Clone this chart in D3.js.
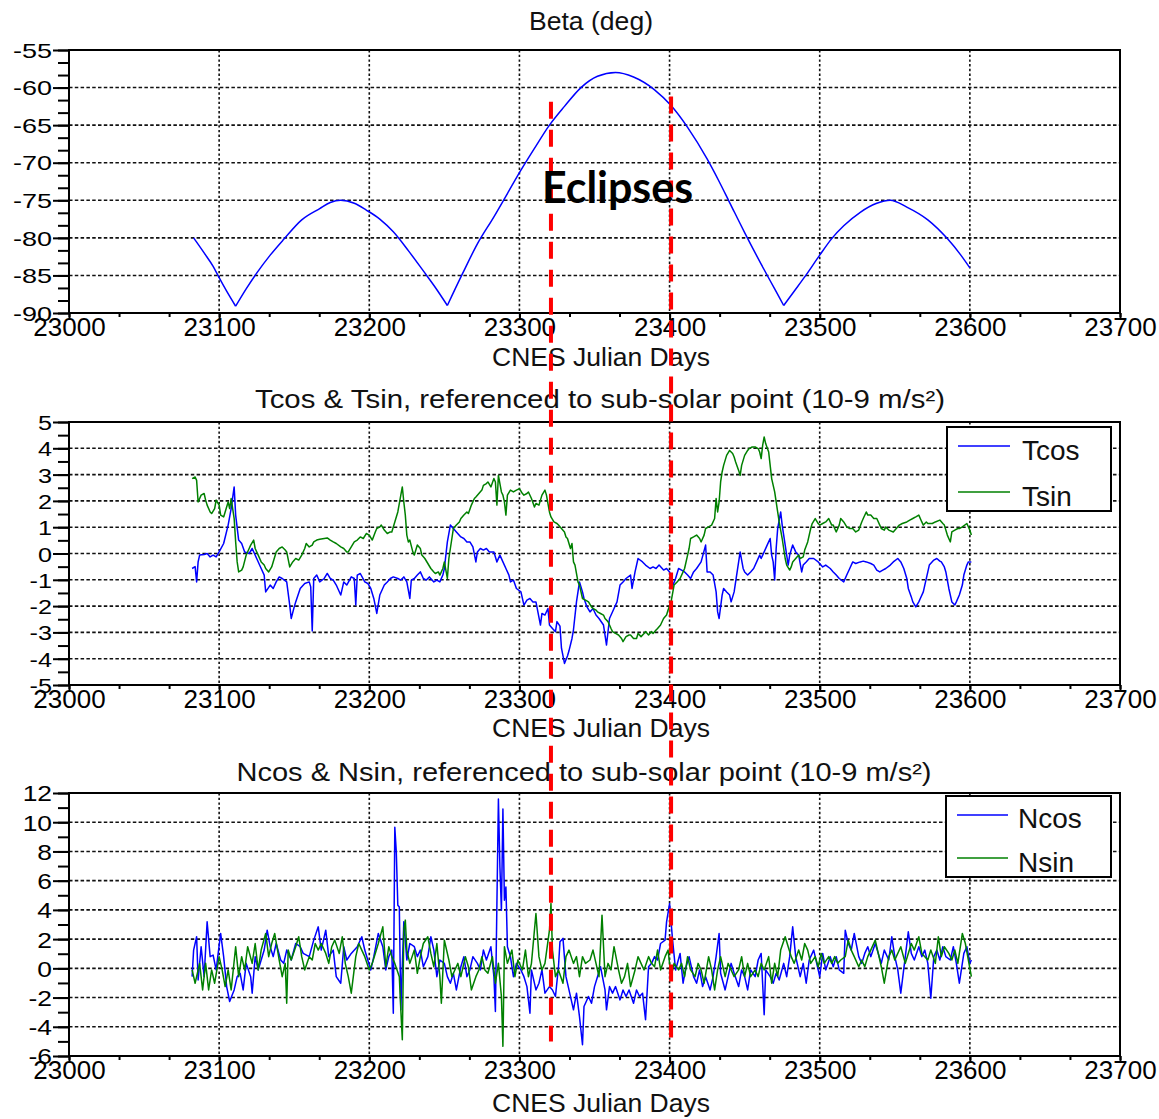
<!DOCTYPE html>
<html><head><meta charset="utf-8">
<script src="https://cdn.jsdelivr.net/npm/d3@7"></script>
<style>body{margin:0;background:#fff;}svg{display:block;}</style>
</head><body>
<svg id="chart" width="1159" height="1119"></svg>
<script>
// ---------------- DATA ----------------
const DAY0 = 23000; // day offsets below are relative to CNES Julian Day 23000
const xTicks = [23000, 23100, 23200, 23300, 23400, 23500, 23600, 23700];
const betaTicks = [-90, -85, -80, -75, -70, -65, -60, -55];
const tTicks = [-5, -4, -3, -2, -1, 0, 1, 2, 3, 4, 5];
const nTicks = [-6, -4, -2, 0, 2, 4, 6, 8, 10, 12];
const titles = ["Beta (deg)",
  "Tcos & Tsin, referenced to sub-solar point (10-9 m/s\u00b2)",
  "Ncos & Nsin, referenced to sub-solar point (10-9 m/s\u00b2)"];
const xAxisLabel = "CNES Julian Days";
const tNames = ["Tcos", "Tsin"];
const nNames = ["Ncos", "Nsin"];
const eclipseDays = [23321, 23401];
const eclipseLabel = "Eclipses";

const beta = [[83,-80.0],[90,-82.0],[96,-83.8],[100,-85.3],[105,-87.1],[111,-89.1],[118,-86.8],[125,-84.7],[134,-82.3],[143,-80.2],[155,-77.6],[167,-76.1],[174,-75.3],[181,-75.0],[190,-75.4],[198,-76.3],[207,-77.5],[216,-79.2],[226,-81.7],[236,-84.4],[244,-86.6],[252,-89.0],[262,-84.8],[272,-80.8],[283,-77.2],[292,-74.1],[301,-71.0],[310,-68.1],[320,-65.0],[330,-62.5],[341,-60.0],[352,-58.5],[364,-58.0],[376,-58.6],[390,-60.3],[401,-62.4],[412,-65.3],[425,-69.5],[433,-72.5],[440,-75.3],[450,-79.3],[461,-83.5],[470,-86.8],[476,-89.0],[483,-87.1],[490,-85.2],[500,-82.3],[508,-80.1],[516,-78.4],[527,-76.6],[538,-75.4],[547,-75.0],[558,-75.9],[572,-77.6],[585,-80.1],[594,-82.3],[600,-84.0]];

const tcos = [[82,-0.57],[84,-0.5],[85,-1.08],[86,-0.32],[87,-0.06],[90,-0.04],[92,0],[94,-0.13],[96,-0.06],[98,-0.13],[100,0.06],[103,0.38],[106,1.08],[108,1.71],[110,2.53],[111,1.46],[113,0.51],[115,0.38],[117,0.06],[120,0],[122,0.19],[125,-0.19],[128,-0.57],[130,-0.82],[131,-1.46],[134,-1.2],[136,-1.33],[138,-1.08],[140,-0.89],[142,-0.95],[145,-1.08],[147,-1.96],[148,-2.47],[150,-2.03],[151,-1.84],[154,-1.33],[157,-1.14],[160,-1.08],[161,-1.27],[162,-2.95],[163,-0.95],[165,-0.82],[167,-1.08],[170,-0.95],[172,-0.76],[174,-0.95],[176,-1.01],[178,-1.2],[181,-1.58],[183,-1.08],[185,-1.2],[188,-0.89],[190,-0.95],[191,-1.96],[192,-0.82],[194,-0.76],[197,-1.08],[199,-1.14],[201,-1.33],[203,-1.71],[205,-2.28],[207,-1.58],[210,-1.2],[212,-1.08],[214,-0.95],[216,-0.89],[219,-0.95],[221,-1.01],[223,-0.89],[225,-1.08],[227,-1.71],[228,-1.01],[230,-0.95],[232,-0.82],[234,-0.7],[236,-0.95],[238,-1.01],[240,-0.89],[243,-1.08],[245,-1.01],[247,-1.08],[249,-0.82],[250,-0.57],[252,0.44],[254,1.08],[256,0.95],[258,0.82],[261,0.63],[263,0.57],[265,0.44],[267,0.44],[269,0.25],[271,-0.32],[272,0.06],[274,0.19],[276,0.13],[278,0.19],[280,0.06],[283,0.06],[285,-0.32],[287,-0.06],[289,-0.32],[291,-0.57],[293,-0.82],[294,-1.08],[296,-1.01],[298,-1.33],[301,-1.46],[303,-1.96],[305,-1.77],[307,-1.71],[309,-1.84],[311,-1.84],[314,-2.72],[315,-2.28],[317,-2.34],[319,-2.09],[320,-2.72],[322,-2.85],[324,-2.97],[325,-2.59],[327,-2.76],[328,-3.6],[330,-4.18],[332,-3.9],[333,-3.7],[335,-3.23],[336,-2.9],[338,-1.84],[340,-1.08],[342,-1.46],[343,-1.71],[345,-2.03],[347,-2.22],[349,-2.09],[351,-2.34],[353,-2.47],[356,-2.72],[358,-3.48],[360,-2.47],[363,-2.09],[365,-1.84],[367,-1.2],[369,-1.08],[371,-0.95],[374,-0.82],[375,-1.33],[377,-0.7],[379,-0.19],[382,-0.32],[384,-0.44],[387,-0.57],[389,-0.51],[391,-0.57],[393,-0.44],[396,-0.63],[398,-0.57],[400,-0.7],[402,-1.24],[404,-0.95],[406,-0.57],[408,-0.63],[410,-0.7],[412,-0.82],[414,-0.95],[416,-0.7],[418,-0.57],[421,-0.32],[424,0.32],[425,-0.7],[427,-0.7],[429,-0.82],[431,-1.46],[432,-2.22],[433,-2.47],[435,-1.58],[436,-1.33],[438,-1.46],[440,-1.58],[441,-1.84],[443,-1.46],[444,-1.08],[446,-0.32],[447,0.06],[449,-0.57],[450,-0.7],[452,-0.82],[454,-0.7],[456,-0.57],[458,-0.32],[460,-0.06],[461,-0.19],[463,0.06],[465,0.32],[467,0.57],[468,-0.06],[469,-0.32],[470,-1.01],[471,0.19],[472,0.95],[474,1.58],[475,1.08],[477,0.32],[479,-0.44],[480,-0.06],[482,0.32],[484,0.06],[486,-0.06],[488,-0.7],[489,-0.44],[491,-0.32],[493,-0.19],[496,-0.19],[499,-0.32],[502,-0.51],[504,-0.44],[507,-0.57],[509,-0.7],[511,-0.82],[513,-0.95],[516,-1.08],[518,-0.82],[520,-0.57],[522,-0.32],[524,-0.38],[527,-0.32],[529,-0.29],[531,-0.32],[534,-0.38],[536,-0.44],[538,-0.63],[540,-0.7],[542,-0.63],[544,-0.57],[547,-0.44],[549,-0.32],[552,-0.19],[554,-0.32],[556,-0.57],[558,-0.95],[559,-1.33],[561,-1.65],[562,-1.84],[564,-2.03],[566,-1.84],[567,-1.71],[569,-1.46],[570,-1.2],[572,-0.7],[573,-0.44],[576,-0.25],[578,-0.19],[580,-0.29],[581,-0.32],[583,-0.51],[584,-0.7],[586,-1.33],[588,-1.84],[590,-1.96],[591,-1.84],[593,-1.58],[595,-1.2],[596,-0.82],[598,-0.44],[599,-0.32],[601,-0.32]];

const tsin = [[82,2.85],[84,2.91],[85,2.78],[86,1.96],[88,2.22],[90,2.28],[91,2.03],[92,1.84],[94,1.58],[95,1.52],[97,1.71],[98,2.03],[100,1.84],[101,1.46],[103,1.39],[104,1.58],[106,1.96],[107,1.71],[108,2.09],[110,1.33],[111,0.44],[112,-0.32],[113,-0.7],[115,-0.63],[116,-0.51],[118,-0.06],[120,0.19],[121,0.32],[123,0.51],[124,0.19],[126,-0.06],[128,-0.32],[130,-0.44],[131,-0.57],[133,-0.7],[135,-0.51],[136,-0.32],[138,0.06],[140,0.19],[142,0.25],[144,0.13],[145,0.06],[147,-0.51],[149,-0.32],[151,-0.19],[153,-0.25],[155,-0.06],[157,0.19],[158,0.38],[160,0.25],[162,0.32],[163,0.44],[165,0.51],[167,0.54],[170,0.57],[172,0.59],[174,0.51],[176,0.44],[178,0.38],[181,0.25],[183,0.19],[185,0.06],[186,0.06],[188,0.25],[190,0.44],[192,0.51],[194,0.63],[196,0.57],[198,0.76],[200,0.7],[202,0.51],[204,0.82],[205,0.95],[207,1.01],[208,1.08],[210,0.89],[212,0.76],[214,0.82],[215,0.82],[217,1.2],[219,1.58],[221,2.22],[222,2.53],[223,1.96],[224,1.46],[225,0.7],[226,0.44],[227,0.51],[229,0.06],[230,-0.06],[232,0.32],[234,0.19],[235,-0.06],[237,-0.19],[239,-0.38],[241,-0.57],[243,-0.7],[244,-0.76],[246,-0.7],[247,-0.82],[249,-0.57],[250,-0.32],[252,-0.95],[253,-0.19],[254,0.19],[256,0.95],[258,1.08],[260,1.2],[261,1.33],[263,1.46],[265,1.58],[266,1.52],[268,1.84],[270,2.09],[271,2.15],[273,2.28],[275,2.41],[276,2.59],[278,2.66],[279,2.72],[281,2.53],[283,2.85],[284,2.72],[285,1.84],[286,2.97],[288,2.34],[289,2.22],[290,1.96],[291,1.46],[292,2.22],[294,2.41],[296,2.34],[298,2.41],[300,2.47],[302,2.28],[303,2.22],[305,2.28],[306,2.34],[308,2.09],[310,1.77],[311,1.9],[313,1.84],[314,2.03],[315,2.22],[317,2.41],[318,2.22],[320,1.58],[321,1.39],[323,1.2],[325,1.14],[326,1.08],[328,0.95],[330,0.82],[331,0.63],[332,0.57],[334,0.19],[335,0.38],[336,-0.32],[337,-0.44],[339,-1.08],[340,-1.2],[342,-1.71],[344,-1.77],[346,-1.84],[348,-2.03],[349,-2.09],[351,-2.15],[352,-2.22],[354,-2.28],[356,-2.34],[357,-2.47],[359,-2.59],[361,-2.85],[362,-2.97],[364,-3.04],[366,-3.1],[368,-3.23],[369,-3.35],[371,-3.16],[373,-3.1],[374,-3.1],[376,-3.23],[378,-3.23],[379,-3.04],[381,-3.16],[383,-3.04],[384,-2.97],[386,-3.1],[388,-2.97],[389,-3.04],[391,-2.91],[392,-2.85],[394,-2.72],[396,-2.47],[398,-2.34],[399,-2.15],[401,-1.84],[403,-1.2],[405,-1.08],[407,-0.95],[409,-0.7],[410,-0.57],[412,-0.06],[413,0.19],[414,0.57],[416,0.63],[418,0.7],[420,0.57],[421,0.44],[423,0.7],[424,0.95],[426,1.01],[428,1.08],[430,1.33],[431,2.09],[432,1.58],[433,1.96],[434,2.72],[435,3.1],[436,3.35],[438,3.73],[440,3.92],[442,3.8],[443,3.67],[444,3.48],[446,3.16],[447,2.97],[448,3.35],[450,3.73],[452,3.92],[453,3.99],[455,4.05],[457,4.05],[459,3.99],[460,3.86],[461,3.61],[462,4.11],[463,4.43],[464,4.18],[466,3.86],[467,3.35],[468,2.85],[470,2.34],[471,1.96],[472,1.58],[473,1.2],[475,0.57],[476,0.19],[477,-0.19],[478,-0.44],[480,-0.63],[481,-0.51],[482,-0.32],[484,-0.19],[486,-0.06],[487,-0.19],[489,-0.13],[490,0.13],[492,0.44],[494,0.95],[495,1.14],[497,1.33],[499,1.14],[500,1.08],[502,1.14],[504,1.2],[506,1.33],[508,1.08],[509,1.08],[511,0.82],[513,1.08],[514,1.33],[516,1.2],[518,1.01],[520,0.95],[522,0.95],[524,0.82],[526,0.89],[528,1.2],[529,1.33],[531,1.58],[532,1.46],[534,1.46],[536,1.33],[538,1.33],[540,1.08],[541,0.95],[543,0.89],[544,1.01],[546,0.89],[549,0.82],[551,0.95],[553,1.08],[555,1.14],[558,1.2],[560,1.27],[562,1.33],[564,1.39],[566,1.46],[568,1.2],[569,1.08],[571,1.2],[572,1.14],[575,1.14],[577,1.2],[580,1.27],[582,1.14],[583,1.08],[585,0.7],[587,0.44],[588,0.82],[590,0.89],[592,0.95],[593,0.95],[595,1.01],[598,1.14],[600,0.89],[601,0.7]];

const ncos = [[82,-0.57],[83,1.25],[85,2.16],[86,-0.8],[88,1.48],[90,-0.57],[92,3.18],[94,0.8],[96,0.91],[98,-0.11],[101,2.39],[103,0.8],[105,-1.25],[107,-2.27],[110,-1.48],[112,-0.57],[114,-0.34],[116,-1.48],[118,0.34],[121,-0.57],[122,-1.7],[124,0.8],[126,-0.11],[130,1.25],[132,2.61],[134,1.48],[136,0.8],[138,1.7],[141,0.57],[143,0.34],[145,1.25],[148,0.57],[151,1.7],[154,1.48],[156,1.02],[160,0.8],[163,1.93],[166,2.84],[168,1.25],[171,2.61],[173,0.8],[176,1.25],[178,-0.57],[181,-1.02],[183,1.48],[185,0.57],[188,1.02],[192,1.48],[195,2.16],[197,1.25],[201,-0.11],[203,0.8],[206,2.39],[209,1.48],[211,-0.11],[213,0.8],[215,1.25],[216,-3.07],[217,9.66],[218,7.95],[219,4.32],[220,4.2],[221,-2.84],[223,3.18],[225,0.57],[227,1.7],[230,1.48],[232,0.8],[234,1.25],[236,0.11],[239,0.8],[241,2.16],[243,1.25],[245,-0.57],[247,0.57],[250,0.34],[252,-0.57],[254,-1.02],[256,-0.34],[258,-1.48],[261,0.11],[263,0.8],[265,-0.57],[267,-0.11],[269,0.8],[272,0.34],[274,-0.11],[276,1.25],[278,0.57],[281,1.48],[283,-0.57],[284,-2.95],[285,4.43],[286,11.59],[287,6.93],[288,3.98],[289,10.91],[290,4.66],[291,5.57],[292,1.48],[294,0.8],[296,-0.57],[298,0.34],[301,-0.11],[303,-0.57],[305,-1.25],[307,-3.07],[308,-0.11],[311,-1.48],[313,-1.02],[315,-0.11],[317,-1.7],[320,-1.25],[322,-1.48],[324,-1.93],[326,0.11],[327,1.82],[329,2.05],[331,-0.57],[333,-1.48],[336,-2.84],[338,-1.7],[340,-3.3],[342,-5.23],[343,-2.61],[346,-1.93],[348,-2.39],[350,-1.25],[352,-0.57],[354,0.11],[357,-1.48],[358,-2.84],[360,-1.25],[362,-1.7],[364,-1.25],[367,-2.16],[369,-1.48],[371,-1.93],[373,-1.48],[376,-2.39],[378,-1.48],[380,-1.93],[382,-1.7],[384,-3.52],[386,0.11],[388,0.34],[390,0.8],[392,0.57],[394,1.7],[397,1.93],[398,3.18],[400,4.43],[402,1.93],[404,-0.11],[407,1.02],[409,-1.02],[411,0.11],[413,0.8],[416,-0.57],[418,-1.02],[420,-0.11],[422,-1.25],[424,-0.57],[427,-1.48],[429,-0.57],[431,0.8],[433,2.39],[434,-0.34],[437,-1.48],[439,-0.57],[441,0.34],[443,-0.34],[446,-1.25],[448,-0.11],[450,-0.57],[452,-1.48],[454,-0.11],[457,-0.57],[459,0.57],[461,1.02],[463,-3.18],[464,-0.11],[467,-0.57],[469,-1.02],[471,-0.34],[473,-0.8],[476,0.34],[478,-0.57],[480,0.8],[482,2.84],[484,0.8],[487,-0.57],[489,0.34],[491,-1.02],[493,0.57],[496,1.25],[498,0.34],[500,-0.57],[502,1.02],[504,-0.11],[507,0.8],[509,0.11],[511,0.8],[513,-0.11],[516,-0.34],[517,2.61],[519,1.7],[521,1.25],[523,2.39],[526,0.8],[528,0.34],[530,1.02],[532,1.48],[534,0.8],[537,1.7],[539,1.02],[541,0.34],[543,1.25],[546,0.57],[548,2.16],[550,0.8],[552,-0.11],[554,-1.7],[557,0.8],[559,2.5],[561,1.02],[563,0.57],[566,1.48],[568,0.8],[570,1.25],[572,0.34],[574,-2.05],[576,0.8],[578,1.25],[580,0.57],[582,1.48],[584,0.8],[587,0.57],[589,1.48],[591,0.34],[593,-1.02],[596,1.02],[598,1.48],[600,0.34],[601,0.57]];

const nsin = [[82,-0.11],[84,-1.02],[87,0.34],[89,-1.48],[91,0.34],[93,-1.48],[95,-0.11],[97,-1.02],[100,0.8],[102,-0.11],[104,-1.25],[106,-0.11],[108,-1.48],[111,1.48],[113,-0.57],[115,0.8],[117,-0.11],[119,1.48],[122,0.34],[124,1.7],[126,-0.11],[128,1.25],[131,2.39],[133,0.8],[135,1.7],[137,2.39],[140,0.57],[142,-0.57],[144,0.34],[145,-2.39],[146,1.25],[148,0.57],[151,1.48],[153,2.16],[155,0.8],[157,-0.11],[160,0.8],[162,0.57],[164,1.7],[166,1.25],[168,1.7],[171,1.02],[173,0.34],[175,1.48],[177,1.93],[180,1.02],[182,2.16],[184,0.34],[186,-0.57],[188,-1.7],[191,0.8],[193,1.7],[195,1.25],[197,0.8],[200,-0.11],[202,0.34],[204,1.02],[206,1.7],[209,2.84],[211,0.11],[213,1.48],[215,0.8],[217,0.34],[220,-0.57],[221,-2.84],[222,-4.89],[223,2.61],[224,3.3],[225,1.25],[227,0.34],[230,1.25],[232,-0.34],[234,0.8],[236,1.7],[239,2.16],[241,1.02],[243,0.11],[245,1.7],[247,-0.57],[248,-2.39],[250,1.93],[253,0.57],[255,-0.57],[257,-0.11],[259,0.34],[261,-0.57],[264,0.8],[266,0.11],[268,-1.48],[271,-0.57],[273,-0.11],[275,0.8],[277,-0.11],[279,-0.34],[282,0.8],[284,-1.02],[286,0.34],[288,-1.93],[289,-5.34],[290,1.48],[292,0.34],[295,1.25],[297,-0.57],[299,0.57],[302,-0.11],[304,1.25],[306,-0.57],[308,0.34],[311,3.75],[313,0.8],[315,-0.11],[317,0.34],[320,2.61],[321,4.43],[322,1.25],[324,-0.57],[326,-0.11],[329,-1.02],[331,0.8],[333,1.25],[336,0.34],[338,0.8],[340,-0.57],[342,0.8],[344,0.34],[347,0.57],[349,1.25],[351,0.34],[353,-0.57],[355,3.64],[357,-0.57],[359,0.34],[361,-0.11],[363,1.48],[366,-0.11],[368,-1.02],[370,-0.57],[372,0.34],[374,-1.25],[377,-0.11],[379,0.8],[381,0.34],[383,-0.11],[386,0.8],[388,0.34],[390,0.11],[392,1.25],[394,-0.11],[397,0.8],[399,1.25],[401,-0.57],[403,0.34],[406,-0.11],[408,0.34],[410,-0.57],[412,0.8],[414,-0.11],[417,-0.57],[419,0.34],[421,-0.11],[423,-1.02],[426,0.8],[428,-0.11],[430,-1.48],[432,-0.11],[434,0.8],[437,-0.57],[439,0.34],[441,-0.11],[443,-0.57],[446,-0.11],[448,0.8],[450,-0.57],[452,0.34],[454,-0.57],[457,-0.11],[459,-0.57],[461,0.34],[463,-0.11],[466,0.8],[468,-1.02],[470,0.34],[472,-0.57],[474,1.25],[477,2.16],[479,1.48],[481,0.8],[483,0.34],[486,1.25],[488,0.57],[490,1.7],[492,1.25],[494,0.34],[497,0.8],[499,0.11],[501,1.02],[503,0.34],[506,0.8],[508,0.34],[510,0.8],[512,0.34],[514,0.57],[517,0.8],[519,1.93],[521,1.25],[523,0.8],[526,0.11],[528,0.57],[530,0.11],[532,0.8],[534,1.25],[537,1.93],[539,1.02],[541,0.11],[543,-1.02],[546,0.8],[548,1.25],[550,0.57],[552,1.02],[554,1.48],[557,0.34],[559,1.02],[561,1.7],[563,1.25],[566,2.16],[568,1.02],[570,0.8],[572,0.57],[574,1.25],[577,0.34],[579,2.16],[581,0.8],[583,1.48],[586,1.02],[588,0.57],[590,1.25],[592,0.34],[595,2.39],[597,1.7],[599,0.57],[601,-0.57]];

// ---------------- LAYOUT / STYLE ----------------
const FONT = '"Liberation Sans", Arial, Helvetica, sans-serif';
const BLUE = "#0000ff", GREEN = "#008000", RED = "#ff0000";
const svg = d3.select("#chart");
svg.append("rect").attr("width", 1159).attr("height", 1119).attr("fill", "#fff");

const x = d3.scaleLinear().domain([xTicks[0], xTicks[xTicks.length - 1]]).range([69, 1120]);
const xMinor = d3.range(xTicks[0], xTicks[xTicks.length - 1] + 0.01, 100 / 3);

const panels = [
  { ticks: betaTicks, minorStep: 5 / 3, top: 50, bottom: 313, yFont: 20, ySx: 1.35,
    title: titles[0], titleX: 591, titleY: 30, titleW: 124, labY: 366,
    series: [{ data: beta, color: BLUE, smooth: true }], legend: null },
  { ticks: tTicks, minorStep: 0.5, top: 422, bottom: 685, yFont: 21, ySx: 1.2,
    title: titles[1], titleX: 600, titleY: 408, titleW: 690, labY: 737,
    series: [{ data: tcos, color: BLUE }, { data: tsin, color: GREEN }],
    legend: { names: tNames, box: [947, 427, 164, 84], ly: [446, 492], lx: [958, 1010], tx: 1022, ty: [460, 506] } },
  { ticks: nTicks, minorStep: 1, top: 793, bottom: 1056, yFont: 22, ySx: 1.2,
    title: titles[2], titleX: 584, titleY: 781, titleW: 695, labY: 1112,
    series: [{ data: ncos, color: BLUE }, { data: nsin, color: GREEN }],
    legend: { names: nNames, box: [946, 796, 165, 81], ly: [815, 858], lx: [957, 1008], tx: 1018, ty: [828, 872] } }
];

// split a smooth series at its cusps (local minima) so each arch is drawn smoothly
function splitAtCusps(data) {
  const segs = []; let cur = [data[0]];
  for (let i = 1; i < data.length; i++) {
    cur.push(data[i]);
    if (i < data.length - 1 && data[i][1] < data[i - 1][1] && data[i][1] < data[i + 1][1]) {
      segs.push(cur); cur = [data[i]];
    }
  }
  segs.push(cur);
  return segs;
}

const yScales = [];
panels.forEach((p, i) => {
  const lo = p.ticks[0], hi = p.ticks[p.ticks.length - 1];
  const y = d3.scaleLinear().domain([lo, hi]).range([p.bottom, p.top]);
  yScales.push(y);
  const g = svg.append("g");

  // grid
  g.selectAll(null).data(p.ticks.slice(1, -1)).join("line")
    .attr("x1", x.range()[0]).attr("x2", x.range()[1])
    .attr("y1", d => y(d)).attr("y2", d => y(d))
    .attr("stroke", "#111").attr("stroke-width", 1.6).attr("stroke-dasharray", "3.5,2.3");
  g.selectAll(null).data(xTicks.slice(1, -1)).join("line")
    .attr("x1", d => x(d)).attr("x2", d => x(d))
    .attr("y1", p.top).attr("y2", p.bottom)
    .attr("stroke", "#111").attr("stroke-width", 1.6).attr("stroke-dasharray", "2.4,2.3");

  // series
  p.series.forEach(s => {
    if (s.smooth) {
      const line = d3.line().x(d => x(DAY0 + d[0])).y(d => y(d[1])).curve(d3.curveMonotoneX);
      splitAtCusps(s.data).forEach(seg => {
        g.append("path").datum(seg).attr("d", line)
          .attr("fill", "none").attr("stroke", s.color).attr("stroke-width", 1.5);
      });
    } else {
      const line = d3.line().x(d => x(DAY0 + d[0])).y(d => y(d[1]));
      g.append("path").datum(s.data).attr("d", line)
        .attr("fill", "none").attr("stroke", s.color).attr("stroke-width", 1.5)
        .attr("stroke-linejoin", "round");
    }
  });

  // frame
  g.append("rect").attr("x", x.range()[0]).attr("y", p.top)
    .attr("width", x.range()[1] - x.range()[0]).attr("height", p.bottom - p.top)
    .attr("fill", "none").attr("stroke", "#000").attr("stroke-width", 2);

  // y axis (major + minor)
  const yMinor = d3.range(lo, hi + 1e-6, p.minorStep);
  const ya = g.append("g").attr("transform", `translate(${x.range()[0]},0)`)
    .call(d3.axisLeft(y).tickValues(p.ticks).tickSize(16).tickFormat(d => String(d)));
  ya.select(".domain").remove();
  ya.selectAll("line").attr("stroke", "#000").attr("stroke-width", 2);
  ya.selectAll("text").attr("x", -17 / p.ySx).attr("dy", "0.36em")
    .attr("transform", `scale(${p.ySx},1)`)
    .attr("fill", "#000").style("font-family", FONT).style("font-size", p.yFont + "px");
  const ym = g.append("g").attr("transform", `translate(${x.range()[0]},0)`)
    .call(d3.axisLeft(y).tickValues(yMinor).tickSize(11).tickFormat(""));
  ym.select(".domain").remove();
  ym.selectAll("line").attr("stroke", "#000").attr("stroke-width", 2);

  // x axis
  const xa = g.append("g").attr("transform", `translate(0,${p.bottom})`)
    .call(d3.axisBottom(x).tickValues(xTicks).tickSize(7).tickFormat(d => String(d)));
  xa.select(".domain").remove();
  xa.selectAll("line").attr("stroke", "#000").attr("stroke-width", 2);
  xa.selectAll("text").attr("y", 23).attr("dy", null).attr("fill", "#000")
    .style("font-family", FONT).style("font-size", "26px");
  const xm = g.append("g").attr("transform", `translate(0,${p.bottom})`)
    .call(d3.axisBottom(x).tickValues(xMinor).tickSize(4).tickFormat(""));
  xm.select(".domain").remove();
  xm.selectAll("line").attr("stroke", "#000").attr("stroke-width", 2);

  // title & axis label
  g.append("text").attr("x", p.titleX).attr("y", p.titleY).attr("text-anchor", "middle")
    .attr("textLength", p.titleW).attr("lengthAdjust", "spacingAndGlyphs")
    .style("font-family", FONT).style("font-size", "26px").attr("fill", "#111").text(p.title);
  g.append("text").attr("x", 601).attr("y", p.labY).attr("text-anchor", "middle")
    .attr("textLength", 218).attr("lengthAdjust", "spacingAndGlyphs")
    .style("font-family", FONT).style("font-size", "26px").attr("fill", "#111").text(xAxisLabel);

  // legend
  if (p.legend) {
    const L = p.legend;
    const lg = g.append("g");
    lg.append("rect").attr("x", L.box[0]).attr("y", L.box[1]).attr("width", L.box[2]).attr("height", L.box[3])
      .attr("fill", "#fff").attr("stroke", "#000").attr("stroke-width", 2);
    L.names.forEach((nm, k) => {
      lg.append("line").attr("x1", L.lx[0]).attr("x2", L.lx[1]).attr("y1", L.ly[k]).attr("y2", L.ly[k])
        .attr("stroke", p.series[k].color).attr("stroke-width", 1.6);
      lg.append("text").attr("x", L.tx).attr("y", L.ty[k])
        .style("font-family", FONT).style("font-size", "28px").attr("fill", "#111").text(nm);
    });
  }
});

// eclipse markers (dashed red) spanning from top panel to bottom panel
const eclTop = [-61.9, -61.2];   // in Beta units
const eclBottom = [-5.0, -5.2];  // in Ncos/Nsin units
svg.append("g").selectAll("line").data(eclipseDays).join("line")
  .attr("x1", d => x(d)).attr("x2", d => x(d))
  .attr("y1", (d, i) => yScales[0](eclTop[i])).attr("y2", (d, i) => yScales[2](eclBottom[i]))
  .attr("stroke", RED).attr("stroke-width", 4).attr("stroke-dasharray", "17,11");

svg.append("text").attr("x", 542).attr("y", 203).attr("textLength", 151).attr("lengthAdjust", "spacingAndGlyphs")
  .style("font-family", "Lato, 'Open Sans', sans-serif").style("font-weight", "bold").style("font-size", "43px")
  .attr("fill", "#000").text(eclipseLabel);
</script>
</body></html>
